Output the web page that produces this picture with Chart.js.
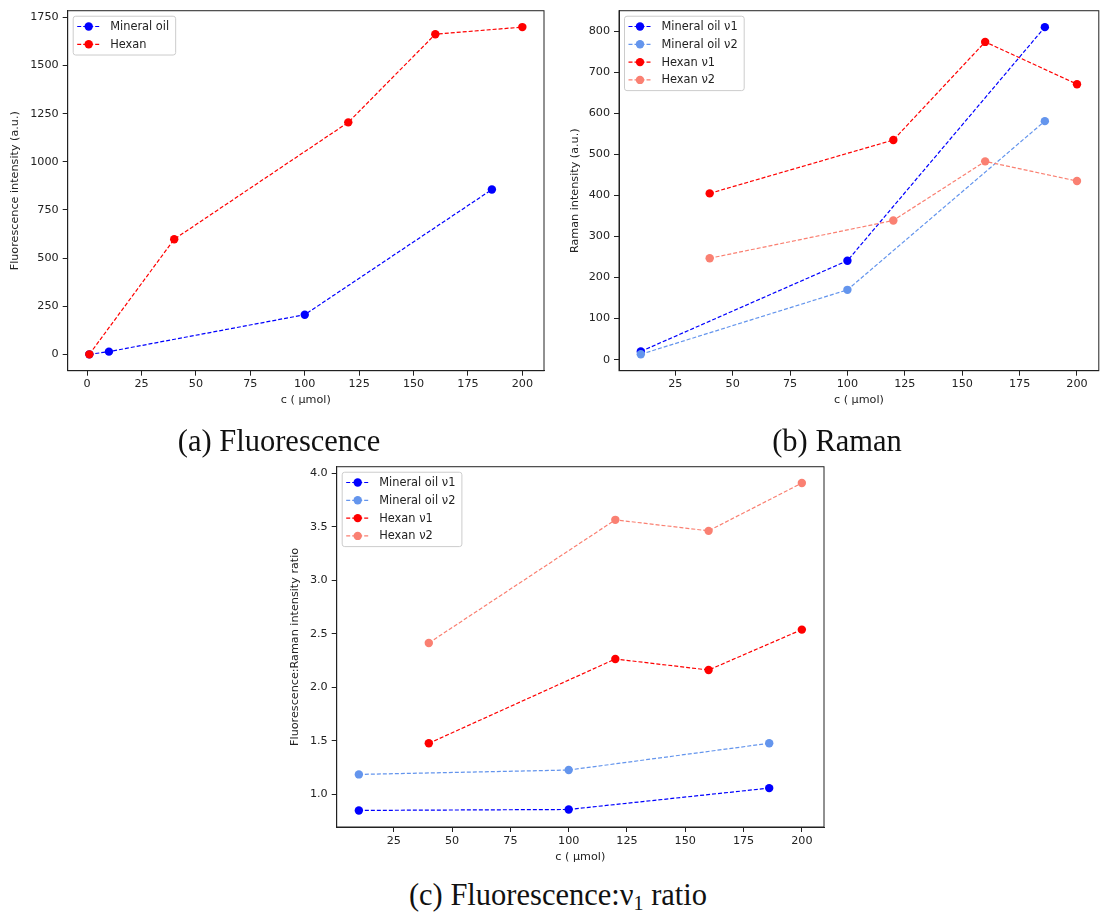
<!DOCTYPE html>
<html>
<head>
<meta charset="utf-8">
<script src="https://cdn.jsdelivr.net/npm/chart.js@4.4.1/dist/chart.umd.min.js"></script>
<style>
  body { margin: 0; background: #fff; }
  #wrap { position: relative; width: 1103px; height: 915px; overflow: hidden; }
  canvas { position: absolute; }
  .cap {
    position: absolute; font-family: "Liberation Serif", serif; font-size: 30.5px;
    line-height: 30px; white-space: nowrap; color: #111; transform: translateX(-50%);
  }
  .cap sub { font-size: 20px; vertical-align: -5px; line-height: 0; }
</style>
</head>
<body>
<div id="wrap">
  <canvas id="fluoChart" width="552" height="412" style="left:0;top:0"></canvas>
  <canvas id="ramanChart" width="551" height="412" style="left:552px;top:0"></canvas>
  <canvas id="ratioChart" width="560" height="412" style="left:270px;top:456px"></canvas>
  <div class="cap" style="left:279px;top:426px">(a) Fluorescence</div>
  <div class="cap" style="left:837px;top:426px">(b) Raman</div>
  <div class="cap" style="left:558px;top:880px">(c) Fluorescence:ν<sub>1</sub> ratio</div>
</div>
<script>
// (a) fluorescence intensity
const fluoMineralX = [1, 10, 100, 186];
const fluoMineralY = [0, 14, 206, 856];
const fluoHexanX = [1, 40, 120, 160, 200];
const fluoHexanY = [0, 598, 1205, 1663, 1700];

// (b) raman intensity
const ramanMineralX = [10, 100, 186];
const ramanMineralV1 = [20, 241, 810];
const ramanMineralV2 = [13, 170, 581];
const ramanHexanX = [40, 120, 160, 200];
const ramanHexanV1 = [405, 535, 774, 671];
const ramanHexanV2 = [247, 339, 483, 435];

// (c) fluorescence:raman ratio
const ratioMineralX = [10, 100, 186];
const ratioMineralV1 = [0.847, 0.856, 1.056];
const ratioMineralV2 = [1.184, 1.225, 1.475];
const ratioHexanX = [40, 120, 160, 200];
const ratioHexanV1 = [1.475, 2.264, 2.161, 2.539];
const ratioHexanV2 = [2.414, 3.566, 3.463, 3.91];

// tick labels
const xTicksA = [0, 25, 50, 75, 100, 125, 150, 175, 200];
const xTicksBC = [25, 50, 75, 100, 125, 150, 175, 200];
const yTicksA = [0, 250, 500, 750, 1000, 1250, 1500, 1750];
const yTicksB = [0, 100, 200, 300, 400, 500, 600, 700, 800];
const yTicksC = [1.0, 1.5, 2.0, 2.5, 3.0, 3.5, 4.0];

const BLUE = "#0000ff";
const LIGHTBLUE = "#6495ed";
const RED = "#ff0000";
const SALMON = "#fa8072";
const INK = "#222222";
const FONT = "DejaVu Sans";

function series(label, xs, ys, color, i) {
  return {
    label: label,
    data: xs.map((x, k) => ({ x: x, y: ys[k] })),
    borderColor: color,
    backgroundColor: color,
    borderWidth: 1.2,
    borderDash: [4, 2],
    pointRadius: 4.2,
    pointHoverRadius: 4.2,
    pointBorderWidth: 0,
    pointBackgroundColor: color,
    order: -i, // later series on top, like matplotlib
  };
}

// legend drawn inside the plot, upper left
const innerLegend = {
  id: "innerLegend",
  afterDatasetsDraw(chart) {
    const { ctx, chartArea } = chart;
    const sets = chart.data.datasets;
    ctx.save();
    ctx.font = `11.4px "${FONT}"`;
    let maxW = 0;
    sets.forEach((ds) => { maxW = Math.max(maxW, ctx.measureText(ds.label).width); });
    const left = chartArea.left + 5.5;
    const top = chartArea.top + 5.5;
    const rowH = 17.8;
    const w = 37 + maxW + 6.5;
    const h = 10.3 + rowH * (sets.length - 1) + 10.7;
    ctx.beginPath();
    ctx.roundRect(left, top, w, h, 2.5);
    ctx.fillStyle = "rgba(255,255,255,0.8)";
    ctx.fill();
    ctx.strokeStyle = "#cccccc";
    ctx.lineWidth = 1;
    ctx.stroke();
    sets.forEach((ds, i) => {
      const y = top + 10.3 + i * rowH;
      ctx.beginPath();
      ctx.setLineDash([4, 2]);
      ctx.strokeStyle = ds.borderColor;
      ctx.lineWidth = 1.2;
      ctx.moveTo(left + 4, y);
      ctx.lineTo(left + 27, y);
      ctx.stroke();
      ctx.setLineDash([]);
      ctx.beginPath();
      ctx.arc(left + 15.5, y, 4.2, 0, Math.PI * 2);
      ctx.fillStyle = ds.borderColor;
      ctx.fill();
      ctx.fillStyle = INK;
      ctx.textBaseline = "middle";
      ctx.fillText(ds.label, left + 37, y + 0.5);
    });
    ctx.restore();
  },
};

// top and right spines
const frame = {
  id: "frame",
  afterDraw(chart) {
    const { ctx, chartArea: a } = chart;
    ctx.save();
    ctx.strokeStyle = INK;
    ctx.lineWidth = 1;
    ctx.strokeRect(a.left, a.top, a.right - a.left, a.bottom - a.top);
    ctx.restore();
  },
};

function makeChart(id, datasets, opts) {
  const fmt = opts.fmt || ((v) => String(v));
  return new Chart(document.getElementById(id), {
    type: "line",
    data: { datasets: datasets },
    plugins: [innerLegend, frame],
    options: {
      responsive: false,
      animation: false,
      devicePixelRatio: 1,
      layout: { padding: { top: opts.padTop, right: opts.padRight, left: 0, bottom: 0 } },
      plugins: { legend: { display: false }, tooltip: { enabled: false } },
      scales: {
        x: {
          type: "linear",
          min: opts.xMin,
          max: opts.xMax,
          afterBuildTicks: (s) => { s.ticks = opts.xTicks.map((v) => ({ value: v })); },
          afterFit: (s) => { s.height = opts.xAxisH; },
          grid: { drawOnChartArea: false, tickLength: 5, color: INK },
          border: { color: INK, width: 1 },
          ticks: { color: INK, font: { family: FONT, size: 11.2 }, padding: 2, maxRotation: 0,
                   callback: (v) => String(v) },
          title: { display: true, text: "c ( μmol)", color: INK,
                   font: { family: FONT, size: 11.2 }, padding: { top: 0, bottom: opts.xTitlePad } },
        },
        y: {
          type: "linear",
          min: opts.yMin,
          max: opts.yMax,
          afterBuildTicks: (s) => { s.ticks = opts.yTicks.map((v) => ({ value: v })); },
          afterFit: (s) => { s.width = opts.yAxisW; },
          grid: { drawOnChartArea: false, tickLength: 5, color: INK },
          border: { color: INK, width: 1 },
          ticks: { color: INK, font: { family: FONT, size: 11.2 }, padding: 4, callback: fmt },
          title: { display: true, text: opts.yTitle, color: INK,
                   font: { family: FONT, size: 11.2 }, padding: { top: opts.yTitlePad, bottom: 0 } },
        },
      },
    },
  });
}

makeChart("fluoChart", [
  series("Mineral oil", fluoMineralX, fluoMineralY, BLUE, 0),
  series("Hexan", fluoHexanX, fluoHexanY, RED, 1),
], {
  xMin: -8.95, xMax: 209.95, yMin: -85, yMax: 1785,
  xTicks: xTicksA, yTicks: yTicksA,
  padTop: 9.5, padRight: 8, xAxisH: 41.3, yAxisW: 67.7,
  xTitlePad: 5.2, yTitlePad: 8.7,
  yTitle: "Fluorescence intensity (a.u.)",
});

makeChart("ramanChart", [
  series("Mineral oil ν1", ramanMineralX, ramanMineralV1, BLUE, 0),
  series("Mineral oil ν2", ramanMineralX, ramanMineralV2, LIGHTBLUE, 1),
  series("Hexan ν1", ramanHexanX, ramanHexanV1, RED, 2),
  series("Hexan ν2", ramanHexanX, ramanHexanV2, SALMON, 3),
], {
  xMin: 0.5, xMax: 209.5, yMin: -27, yMax: 850,
  xTicks: xTicksBC, yTicks: yTicksB,
  padTop: 9.5, padRight: 0.5, xAxisH: 41.3, yAxisW: 67,
  xTitlePad: 5.2, yTitlePad: 16.2,
  yTitle: "Raman intensity (a.u.)",
});

makeChart("ratioChart", [
  series("Mineral oil ν1", ratioMineralX, ratioMineralV1, BLUE, 0),
  series("Mineral oil ν2", ratioMineralX, ratioMineralV2, LIGHTBLUE, 1),
  series("Hexan ν1", ratioHexanX, ratioHexanV1, RED, 2),
  series("Hexan ν2", ratioHexanX, ratioHexanV2, SALMON, 3),
], {
  xMin: 0.5, xMax: 209.5, yMin: 0.692, yMax: 4.063,
  xTicks: xTicksBC, yTicks: yTicksC,
  padTop: 10.7, padRight: 6, xAxisH: 41, yAxisW: 66.7,
  xTitlePad: 4.5, yTitlePad: 18.2,
  yTitle: "Fluorescence:Raman intensity ratio",
  fmt: (v) => v.toFixed(1),
});
</script>
</body>
</html>
